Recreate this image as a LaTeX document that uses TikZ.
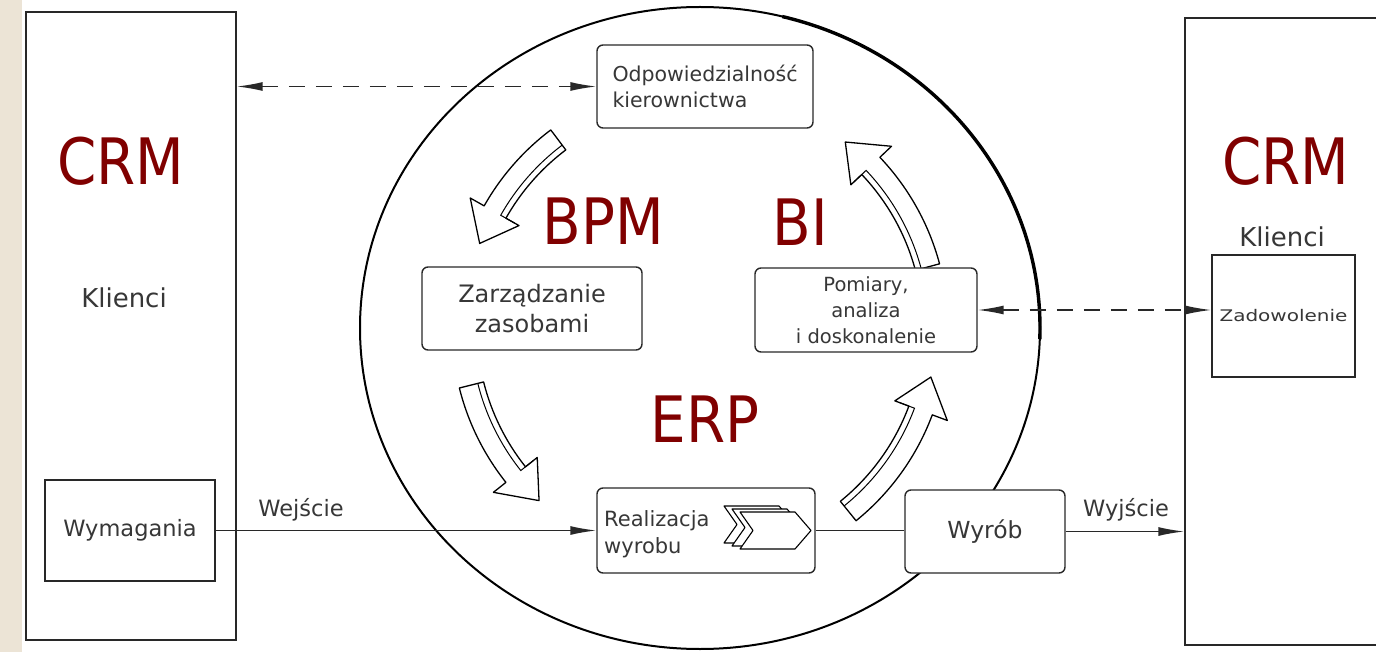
\documentclass[tikz,border=0pt]{standalone}
\usepackage{fontspec}
\usepackage{graphicx}
\setmainfont{DejaVu Sans}
\newfontfamily\crmfont[FakeStretch=0.88]{DejaVu Sans}
\usetikzlibrary{arrows.meta,calc}
\definecolor{crmred}{RGB}{128,0,0}
\definecolor{txt}{RGB}{55,55,55}
\definecolor{linec}{RGB}{40,40,40}
\definecolor{bgstrip}{RGB}{236,228,214}
\begin{document}
\begin{tikzpicture}[x=1pt,y=-1pt,
  box/.style={draw=linec, line width=1.4pt, fill=white, text=txt, inner sep=0pt},
  rbox/.style={box, rounded corners=6pt},
  lbl/.style={text=txt, inner sep=0pt},
  big/.style={text=crmred, font=\crmfont\fontsize{64}{64}\selectfont, inner sep=0pt},
  conn/.style={draw=linec, line width=1.5pt},
  tipend/.style={-{Latex[length=26pt,width=9pt]}},
  tipboth/.style={{Latex[length=26pt,width=9pt]}-{Latex[length=26pt,width=9pt]}},
  dsh/.style={dash pattern=on 16pt off 11pt},
  blk/.style={draw=black, line width=1.3pt, fill=white, line join=round},
  chev/.style={draw=black, line width=1.1pt, fill=white, line join=round}
]
\useasboundingbox (0,0) rectangle (1376,652);
\fill[white] (0,0) rectangle (1376,652);
\fill[bgstrip] (0,0) rectangle (22,652);

% central circle
\coordinate (C) at (700,328);
\draw[line width=2pt] (C) ellipse [x radius=340pt, y radius=321pt];
\draw[line width=3.4pt] ($(C)+(76:340pt and 321pt)$) arc[start angle=76, end angle=-2, x radius=340pt, y radius=321pt];

% curved block arrows
\foreach \a/\b in {127/159, 194/227, -51/-12, 15/52}{
  \pgfmathsetmacro\bh{\b-8.5}
  \draw[blk] ($(C)+(\a:248pt)$) arc[start angle=\a, end angle=\bh, radius=248pt]
     -- ($(C)+(\bh:264pt)$) -- ($(C)+(\b:236pt)$) -- ($(C)+(\bh:208pt)$) -- ($(C)+(\bh:223pt)$)
     arc[start angle=\bh, end angle=\a, radius=223pt] -- cycle;
  \draw[line width=1pt] ($(C)+(\a:229pt)$) arc[start angle=\a, end angle=\bh, radius=229pt] -- ($(C)+(\bh:213pt)$);
}

% left panel
\node[box, minimum width=210pt, minimum height=628pt] (leftbox) at (131,326) {};
\node[big] (crmL) at (121,161) {CRM};
\node[lbl, font=\fontsize{26}{30}\selectfont] (klL) at (124,298) {Klienci};
\node[box, minimum width=170pt, minimum height=101pt, font=\fontsize{22.5}{27}\selectfont] (wym) at (130,530.5) {Wymagania};

% right panel
\node[box, minimum width=235pt, minimum height=627pt] (rightbox) at (1302.5,331.5) {};
\node[big] (crmR) at (1286,161) {CRM};
\node[lbl, font=\fontsize{26}{30}\selectfont] (klR) at (1282,237) {Klienci};
\node[box, minimum width=143pt, minimum height=122pt] (zad) at (1283.5,316) {\scalebox{1.25}[1]{\fontsize{16}{19}\selectfont Zadowolenie}};

% inner boxes
\node[rbox, minimum width=216pt, minimum height=83pt, align=left, font=\fontsize{20.5}{26}\selectfont] (odp) at (705,86.5) {Odpowiedzialność\\kierownictwa};
\node[rbox, minimum width=220pt, minimum height=83pt, align=center, font=\fontsize{24}{30}\selectfont] (zarz) at (532,308.5) {Zarządzanie\\zasobami};
\node[rbox, minimum width=222pt, minimum height=84pt, align=center, font=\fontsize{19.5}{26}\selectfont] (pom) at (866,310) {Pomiary,\\analiza\\i doskonalenie};
\node[rbox, minimum width=218pt, minimum height=85pt] (real) at (706,530.5) {};
\node[lbl, anchor=west, align=left, font=\fontsize{21}{27}\selectfont] (realt) at (604,534) {Realizacja\\wyrobu};
\foreach \dx/\dy in {-16/-6, -8/-3, 0/0}{
  \draw[chev, shift={(\dx,\dy)}] (740,512) -- (795,512) -- (811,530.5) -- (795,549) -- (740,549) -- (753,530.5) -- cycle;
}
\node[rbox, minimum width=160pt, minimum height=83pt, font=\fontsize{23.5}{28}\selectfont] (wyrob) at (985,531.5) {Wyrób};

% big labels
\node[big] (bpm) at (603,221) {BPM};
\node[big] (bi) at (800,222) {BI};
\node[big] (erp) at (705,419) {ERP};

% connectors
\draw[conn, tipend] (wym.east) -- (wym.east -| real.west);
\draw[conn] (real.east) -- (real.east -| wyrob.west);
\draw[conn, tipend] (wyrob.east) -- (wyrob.east -| rightbox.west);
\draw[conn, dsh, tipboth] (odp.west -| leftbox.east) -- (odp.west);
\draw[conn, dsh, tipboth] (pom.east) -- (pom.east -| zad.west);

\node[lbl, font=\fontsize{22.5}{27}\selectfont] (wej) at (301,510) {Wejście};
\node[lbl, font=\fontsize{22.5}{27}\selectfont] (wyj) at (1126,510) {Wyjście};
\end{tikzpicture}
\end{document}
